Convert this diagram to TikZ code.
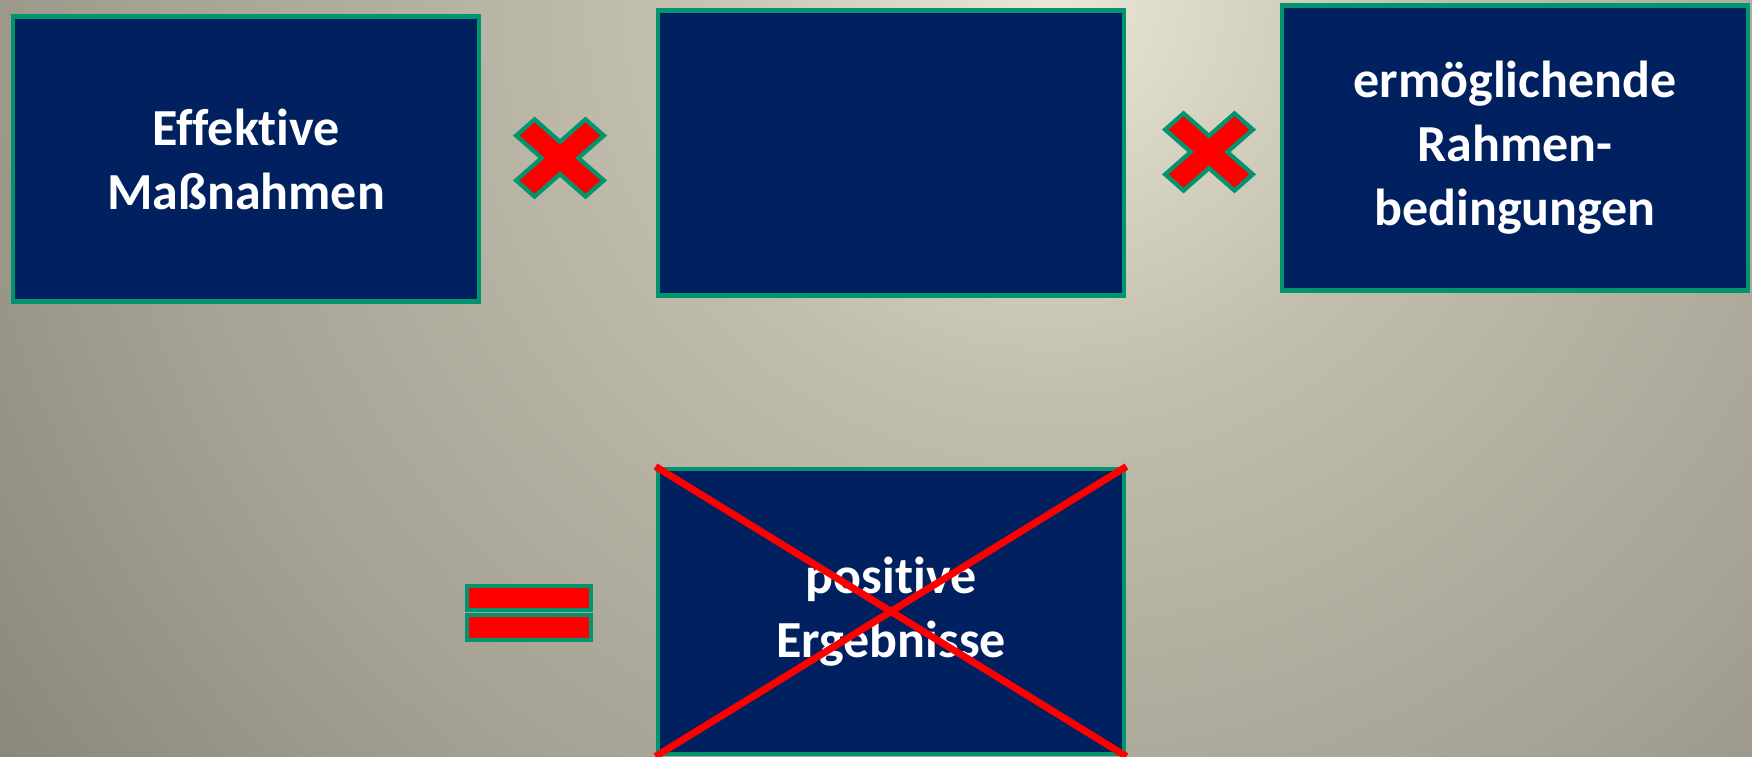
\documentclass[tikz,border=0pt]{standalone}
\usepackage{fontspec}
\setmainfont{Carlito}[Ligatures=NoCommon]
\definecolor{slidenavy}{HTML}{002060}
\definecolor{slidegreen}{HTML}{00956F}
\definecolor{slidered}{HTML}{FF0000}
\definecolor{bglight}{HTML}{EAE7D7}
\definecolor{bgmid}{HTML}{C2BEAD}
\definecolor{bgdark}{HTML}{A6A294}
\definecolor{bgdarkest}{HTML}{8B877A}
\pgfdeclareradialshading{slidebg}{\pgfpoint{0bp}{0bp}}{
  color(0bp)=(bglight); color(7.7bp)=(bgmid); color(17.3bp)=(bgdark); color(25bp)=(bgdarkest); color(50bp)=(bgdarkest)
}
\newcommand{\timesoutline}{
  (0.13,0.49) -- (0.13,0.13) -- (0.49,0.13) -- (0.49,-0.13) -- (0.13,-0.13) -- (0.13,-0.49) -- (-0.13,-0.49) -- (-0.13,-0.13) -- (-0.49,-0.13) -- (-0.49,0.13) -- (-0.13,0.13) -- (-0.13,0.49) -- cycle
}

\begin{document}
\begin{tikzpicture}[line join=miter,
  factor/.style={draw=slidegreen, fill=slidenavy, line width=1.4pt,
    minimum width=4.66cm, minimum height=2.85cm, inner sep=0pt,
    text=white, align=center, font=\fontsize{14.8}{18.2}\selectfont\bfseries},
  opsign/.style={draw=slidegreen, fill=slidered, line width=1.2pt},
  strike/.style={slidered, line width=2pt}]

  % ============ Background ============
  \useasboundingbox (0,0) rectangle (17.52,7.57);
  \begin{scope}
    \clip (0,0) rectangle (17.52,7.57);
    \shade[shading=slidebg] (10.5,7.57) circle [radius=13cm];
  \end{scope}

  % ============ Top row: the three factors ============
  \node[factor] (measures) at (2.46,5.98) {Effektive\\Maßnahmen};
  \node[factor] (middle) at (8.91,6.04) {};
  \node[factor] (frame) at (15.15,6.09) {ermöglichende\\Rahmen-\\bedingungen};

  % multiplication signs between the factors
  \draw[opsign, shift={(5.60,5.99)}, yscale=0.88, rotate=45] \timesoutline;
  \draw[opsign, shift={(12.09,6.05)}, yscale=0.88, rotate=45] \timesoutline;

  % ============ Bottom row: the result ============
  \draw[opsign] (4.67,1.71) rectangle (5.91,1.47);
  \draw[opsign] (4.67,1.42) rectangle (5.91,1.17);

  \node[factor] (result) at (8.91,1.455) {positive\\Ergebnisse};

  % result crossed out
  \draw[strike] (result.north west) -- (result.south east);
  \draw[strike] (result.north east) -- (result.south west);

\end{tikzpicture}
\end{document}
